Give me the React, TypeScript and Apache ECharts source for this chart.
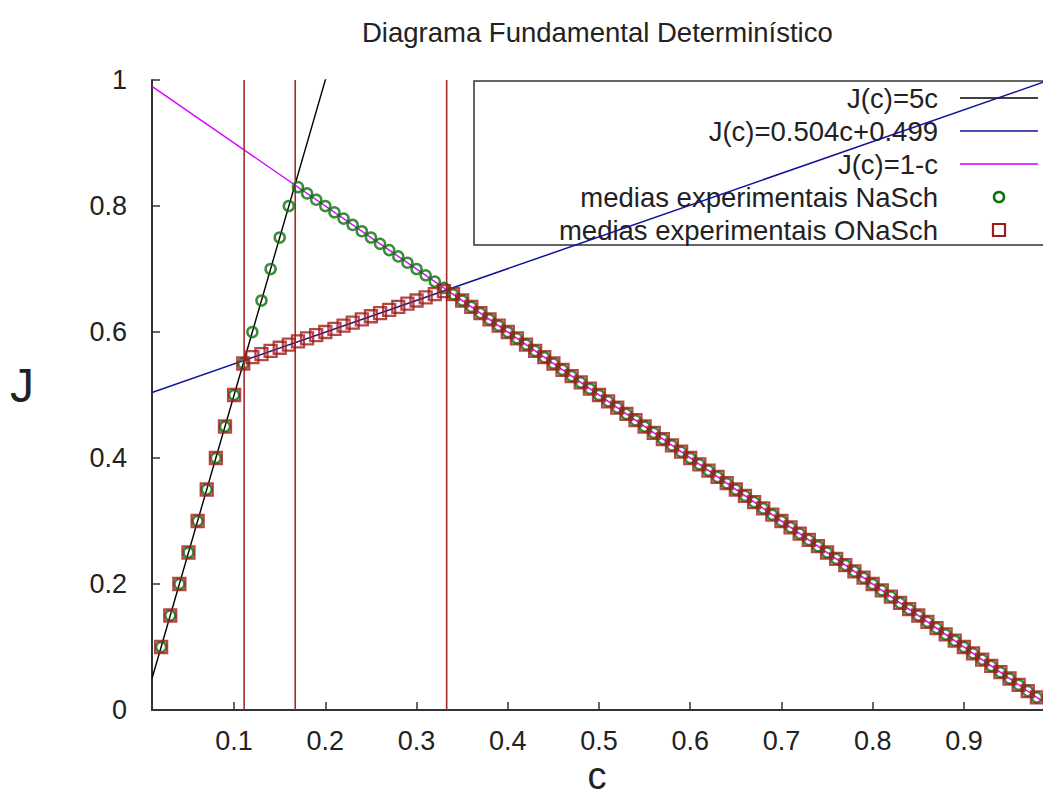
import React, { useEffect, useRef } from "react";
import * as echarts from "echarts";

// densities c (x axis)
const cValues = [
  0.02, 0.03, 0.04, 0.05, 0.06, 0.07, 0.08, 0.09, 0.1, 0.11, 0.12, 0.13, 0.14, 0.15, 0.16, 0.17, 0.18, 0.19,
  0.2, 0.21, 0.22, 0.23, 0.24, 0.25, 0.26, 0.27, 0.28, 0.29, 0.3, 0.31, 0.32, 0.33, 0.34, 0.35, 0.36, 0.37,
  0.38, 0.39, 0.4, 0.41, 0.42, 0.43, 0.44, 0.45, 0.46, 0.47, 0.48, 0.49, 0.5, 0.51, 0.52, 0.53, 0.54, 0.55,
  0.56, 0.57, 0.58, 0.59, 0.6, 0.61, 0.62, 0.63, 0.64, 0.65, 0.66, 0.67, 0.68, 0.69, 0.7, 0.71, 0.72, 0.73,
  0.74, 0.75, 0.76, 0.77, 0.78, 0.79, 0.8, 0.81, 0.82, 0.83, 0.84, 0.85, 0.86, 0.87, 0.88, 0.89, 0.9, 0.91,
  0.92, 0.93, 0.94, 0.95, 0.96, 0.97, 0.98,
];

// medias experimentais NaSch
const naschJ = [
  0.1, 0.15, 0.2, 0.25, 0.3, 0.35, 0.4, 0.45, 0.5, 0.55, 0.6, 0.65, 0.7, 0.75, 0.8, 0.83, 0.82, 0.81,
  0.8, 0.79, 0.78, 0.77, 0.76, 0.75, 0.74, 0.73, 0.72, 0.71, 0.7, 0.69, 0.68, 0.67, 0.66, 0.65, 0.64, 0.63,
  0.62, 0.61, 0.6, 0.59, 0.58, 0.57, 0.56, 0.55, 0.54, 0.53, 0.52, 0.51, 0.5, 0.49, 0.48, 0.47, 0.46, 0.45,
  0.44, 0.43, 0.42, 0.41, 0.4, 0.39, 0.38, 0.37, 0.36, 0.35, 0.34, 0.33, 0.32, 0.31, 0.3, 0.29, 0.28, 0.27,
  0.26, 0.25, 0.24, 0.23, 0.22, 0.21, 0.2, 0.19, 0.18, 0.17, 0.16, 0.15, 0.14, 0.13, 0.12, 0.11, 0.1, 0.09,
  0.08, 0.07, 0.06, 0.05, 0.04, 0.03, 0.02,
];

// medias experimentais ONaSch
const onaschJ = [
  0.1, 0.15, 0.2, 0.25, 0.3, 0.35, 0.4, 0.45, 0.5, 0.55, 0.56, 0.565, 0.57, 0.575, 0.58, 0.585, 0.59, 0.595,
  0.6, 0.605, 0.61, 0.615, 0.62, 0.625, 0.63, 0.635, 0.64, 0.645, 0.65, 0.655, 0.66, 0.665, 0.66, 0.65, 0.64, 0.63,
  0.62, 0.61, 0.6, 0.59, 0.58, 0.57, 0.56, 0.55, 0.54, 0.53, 0.52, 0.51, 0.5, 0.49, 0.48, 0.47, 0.46, 0.45,
  0.44, 0.43, 0.42, 0.41, 0.4, 0.39, 0.38, 0.37, 0.36, 0.35, 0.34, 0.33, 0.32, 0.31, 0.3, 0.29, 0.28, 0.27,
  0.26, 0.25, 0.24, 0.23, 0.22, 0.21, 0.2, 0.19, 0.18, 0.17, 0.16, 0.15, 0.14, 0.13, 0.12, 0.11, 0.1, 0.09,
  0.08, 0.07, 0.06, 0.05, 0.04, 0.03, 0.02,
];

// analytic curves from the legend
const curveDomain = [0.01, 0.99];
const freeFlowSlope = 5;
const fitSlope = 0.504;
const fitIntercept = 0.499;

// vertical reference lines (critical densities) spanning J from 0 to 1
const criticalDensities = [0.111, 0.167, 0.333];
const verticalSpan = [0, 1];

const xTickValues = [0.1, 0.2, 0.3, 0.4, 0.5, 0.6, 0.7, 0.8, 0.9];

const legendLabels = [
  "J(c)=5c",
  "J(c)=0.504c+0.499",
  "J(c)=1-c",
  "medias experimentais NaSch",
  "medias experimentais ONaSch",
];

const FONT = "'Liberation Sans', Arial, sans-serif";
const C_BLACK = "#000000";
const C_BLUE = "#12129a";
const C_MAGENTA = "#d400ff";
const C_GREEN = "#0a700a";
const C_RED = "#a01c1c";
const C_VLINE = "#a52a2a";
const C_TEXT = "#222222";

export default function App() {
  const ref = useRef<HTMLDivElement>(null);

  useEffect(() => {
    if (!ref.current) return;
    const chart = echarts.init(ref.current, null, { renderer: "svg" });

    const rowY = [98, 131, 164, 197, 230];
    const legendColors = [C_BLACK, C_BLUE, C_MAGENTA];

    const graphic: any[] = [
      {
        type: "rect",
        z: 0,
        shape: { x: 474, y: 81, width: 600, height: 164 },
        style: { fill: "#ffffff", stroke: "#333333", lineWidth: 1.5 },
        silent: true,
      },
      ...legendLabels.map((t, i) => ({
        type: "text",
        z: 1,
        x: 938,
        y: rowY[i],
        style: {
          text: t,
          align: "right",
          verticalAlign: "middle",
          fontSize: 27.5,
          fontFamily: FONT,
          fill: C_TEXT,
        },
        silent: true,
      })),
      ...legendColors.map((col, i) => ({
        type: "line",
        z: 1,
        shape: { x1: 960, y1: rowY[i], x2: 1038, y2: rowY[i] },
        style: { stroke: col, lineWidth: 1.6 },
        silent: true,
      })),
      {
        type: "circle",
        z: 1,
        shape: { cx: 999, cy: rowY[3], r: 5 },
        style: { fill: "none", stroke: C_GREEN, lineWidth: 2.5 },
        silent: true,
      },
      {
        type: "rect",
        z: 1,
        shape: { x: 993, y: rowY[4] - 6, width: 12, height: 12 },
        style: { fill: "none", stroke: C_RED, lineWidth: 2.2 },
        silent: true,
      },
      {
        type: "text",
        x: 22,
        y: 385,
        style: {
          text: "J",
          align: "center",
          verticalAlign: "middle",
          fontSize: 48,
          fontFamily: FONT,
          fill: C_TEXT,
        },
      },
      {
        type: "text",
        x: 597,
        y: 776,
        style: {
          text: "c",
          align: "center",
          verticalAlign: "middle",
          fontSize: 38,
          fontFamily: FONT,
          fill: C_TEXT,
        },
      },
    ];

    const vLineSeries = criticalDensities.map((c) => ({
      name: "c=" + c,
      type: "line",
      data: verticalSpan.map((j) => [c, j]),
      symbol: "none",
      lineStyle: { color: C_VLINE, width: 1.6 },
      z: 3,
      silent: true,
    }));

    const option: any = {
      animation: false,
      backgroundColor: "#ffffff",
      title: {
        text: "Diagrama Fundamental Determinístico",
        left: 357,
        top: 13,
        textStyle: { fontSize: 27.5, fontWeight: "normal", fontFamily: FONT, color: C_TEXT },
      },
      grid: { left: 152, right: -3, top: 80, bottom: 86, containLabel: false, outerBoundsMode: "none" },
      xAxis: {
        type: "value",
        min: 0.01,
        max: 0.99,
        axisLine: { show: true, onZero: false, lineStyle: { color: "#333333", width: 2 } },
        axisTick: { show: true, inside: true, length: 8, customValues: xTickValues, lineStyle: { color: "#333333", width: 1.5 } },
        axisLabel: {
          customValues: xTickValues,
          margin: 17,
          fontSize: 27,
          fontFamily: FONT,
          color: C_TEXT,
          formatter: (v: number) => String(Math.round(v * 10) / 10),
        },
        splitLine: { show: false },
      },
      yAxis: {
        type: "value",
        min: 0,
        max: 1,
        interval: 0.2,
        axisLine: { show: true, lineStyle: { color: "#333333", width: 2 } },
        axisTick: { show: true, inside: true, length: 8, lineStyle: { color: "#333333", width: 1.5 } },
        axisLabel: {
          margin: 25,
          fontSize: 27,
          fontFamily: FONT,
          color: C_TEXT,
          formatter: (v: number) => String(Math.round(v * 10) / 10),
        },
        splitLine: { show: false },
      },
      graphic,
      series: [
        {
          name: legendLabels[0],
          type: "line",
          data: curveDomain.map((c) => [c, freeFlowSlope * c]),
          symbol: "none",
          lineStyle: { color: C_BLACK, width: 1.4 },
          z: 3,
          clip: true,
        },
        {
          name: legendLabels[1],
          type: "line",
          data: curveDomain.map((c) => [c, fitSlope * c + fitIntercept]),
          symbol: "none",
          lineStyle: { color: C_BLUE, width: 1.5 },
          z: 3,
          clip: true,
        },
        {
          name: legendLabels[2],
          type: "line",
          data: curveDomain.map((c) => [c, 1 - c]),
          symbol: "none",
          lineStyle: { color: C_MAGENTA, width: 1.4 },
          z: 3,
          clip: true,
        },
        ...vLineSeries,
        {
          name: legendLabels[3],
          type: "scatter",
          data: cValues.map((c, i) => [c, naschJ[i]]),
          symbol: "circle",
          symbolSize: 10,
          itemStyle: { color: "rgba(0,0,0,0)", borderColor: C_GREEN, borderWidth: 2.5 },
          z: 4,
        },
        {
          name: legendLabels[4],
          type: "scatter",
          data: cValues.map((c, i) => [c, onaschJ[i]]),
          symbol: "rect",
          symbolSize: 12,
          itemStyle: { color: "rgba(0,0,0,0)", borderColor: C_RED, borderWidth: 2.3 },
          z: 5,
        },
      ],
    };

    chart.setOption(option);
    return () => chart.dispose();
  }, []);

  return (
    <div
      ref={ref}
      style={{ position: "absolute", left: 0, top: 0, width: 1043, height: 796, overflow: "hidden" }}
    />
  );
}
